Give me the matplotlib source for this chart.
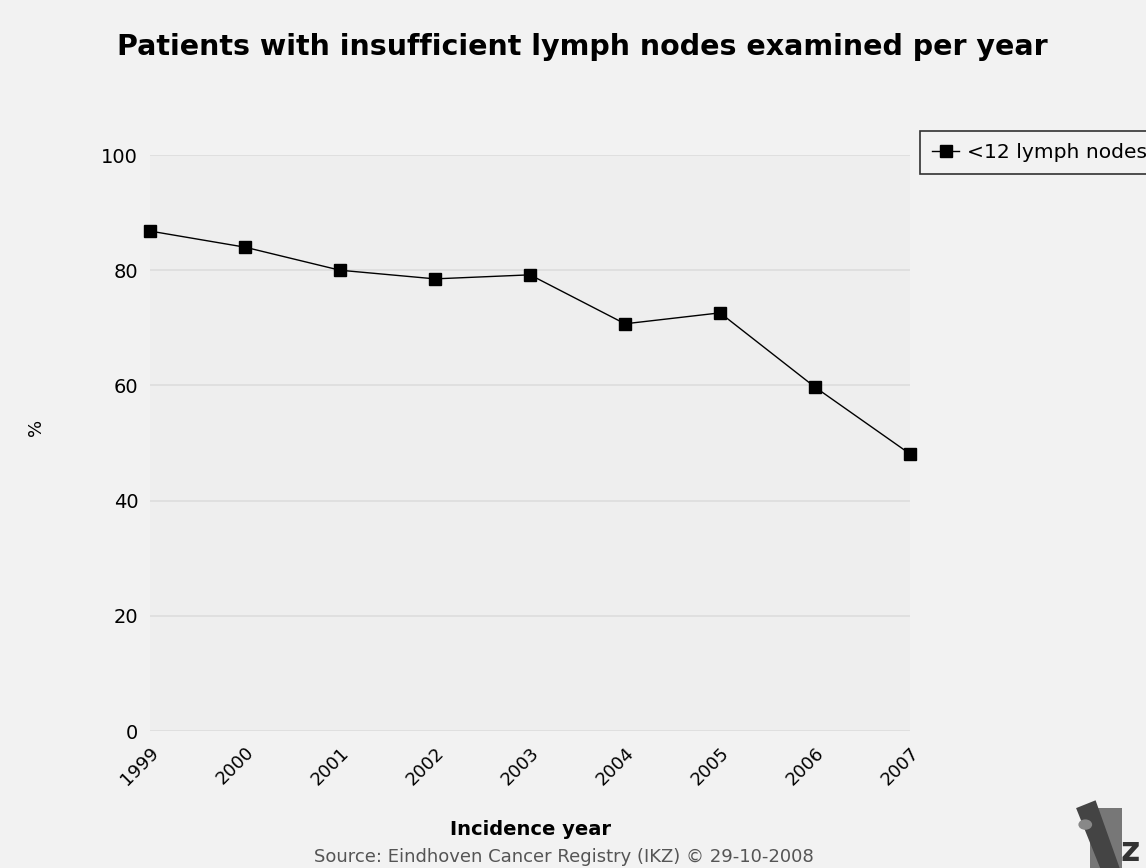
import matplotlib.pyplot as plt
from matplotlib.patches import Polygon, Rectangle, Circle

years = ['1999', '2000', '2001', '2002', '2003', '2004', '2005', '2006', '2007']
pct = [86.8, 84.0, 80.0, 78.5, 79.2, 70.7, 72.6, 59.7, 48.1]
series_name = '<12 lymph nodes'

fig = plt.figure(figsize=(11.46, 8.68), dpi=100, facecolor='#f2f2f2')
ax = fig.add_axes([0.1309, 0.1578, 0.6632, 0.6636])
ax.set_facecolor('#eeeeee')

x = list(range(len(years)))
line, = ax.plot(x, pct, color='black', linewidth=1, marker='s', markersize=8.6,
                label=series_name, clip_on=False, zorder=3)

ax.set_xlim(0, len(years) - 1)
ax.set_ylim(0, 100)
ax.set_yticks([0, 20, 40, 60, 80, 100])
ax.set_xticks(x)
ax.set_xticklabels(years, rotation=45, ha='right', rotation_mode='anchor')
ax.tick_params(length=0, colors='black')
ax.tick_params(axis='y', pad=8.5, labelsize=14)
ax.tick_params(axis='x', pad=9, labelsize=13)
for s in ax.spines.values():
    s.set_visible(False)
ax.yaxis.grid(True, color='#dcdcdc', linewidth=1.2)
ax.set_axisbelow(True)

fig.text(0.508, 0.946, 'Patients with insufficient lymph nodes examined per year',
         ha='center', va='center', fontsize=20.5, fontweight='bold')
fig.text(0.031, 0.507, '%', rotation=90, ha='center', va='center', fontsize=13)
fig.text(0.463, 0.044, 'Incidence year', ha='center', va='center', fontsize=14,
         fontweight='bold')
fig.text(0.492, 0.013, 'Source: Eindhoven Cancer Registry (IKZ) \u00a9 29-10-2008',
         ha='center', va='center', fontsize=13, color='#555555')

leg = fig.legend(handles=[line], loc='upper left', bbox_to_anchor=(0.803, 0.849),
                 fontsize=14.6, frameon=True, fancybox=False, handlelength=1.3,
                 handletextpad=0.4, borderpad=0.6, borderaxespad=0)
leg.get_frame().set_edgecolor('black')
leg.get_frame().set_facecolor('#f2f2f2')
leg.get_frame().set_linewidth(1.2)

# small IKZ logo in the bottom right corner
fig.patches.append(Rectangle((0.951, 0.0), 0.028, 0.069, transform=fig.transFigure,
                             facecolor='#777777', edgecolor='none'))
fig.patches.append(Polygon([(0.939, 0.069), (0.956, 0.078), (0.977, 0.0), (0.960, 0.0)],
                           closed=True, transform=fig.transFigure,
                           facecolor='#444444', edgecolor='none'))
fig.patches.append(Circle((0.947, 0.05), 0.006, transform=fig.transFigure,
                          facecolor='#888888', edgecolor='none'))
fig.text(0.978, 0.0, 'z', fontsize=24, fontweight='bold', color='#333333',
         ha='left', va='bottom')

fig.savefig('out.png', dpi=100, facecolor=fig.get_facecolor())
